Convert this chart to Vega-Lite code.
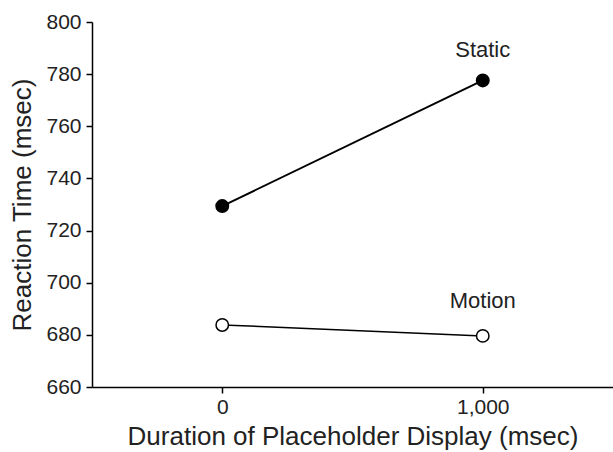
{
  "$schema": "https://vega.github.io/schema/vega-lite/v6.json",
  "autosize": {"type": "none"},
  "width": 521,
  "height": 365,
  "padding": {"left": 92, "top": 22, "right": 0, "bottom": 65},
  "background": "white",
  "config": {
    "view": {"stroke": null},
    "font": "Liberation Sans"
  },
  "data": {
    "values": [
      {"duration": 0, "rt": 729.4, "condition": "Static"},
      {"duration": 1000, "rt": 777.6, "condition": "Static"},
      {"duration": 0, "rt": 683.8, "condition": "Motion"},
      {"duration": 1000, "rt": 679.6, "condition": "Motion"}
    ]
  },
  "encoding": {
    "x": {"field": "duration", "type": "quantitative", "scale": {"domain": [-500, 1500], "nice": false},
      "axis": {"values": [0, 1000], "format": ",d", "title": "Duration of Placeholder Display (msec)", "grid": false,
        "domainColor": "black", "domainWidth": 1.5, "tickColor": "black", "tickWidth": 1.5, "tickSize": 6,
        "labelFont": "Liberation Sans", "labelFontSize": 21, "labelColor": "#222", "labelPadding": 3,
        "titleFont": "Liberation Sans", "titleFontSize": 26, "titleFontWeight": "normal", "titleColor": "#222", "titlePadding": 6}},
    "y": {"field": "rt", "type": "quantitative", "scale": {"domain": [660, 800], "nice": false, "zero": false},
      "axis": {"values": [660, 680, 700, 720, 740, 760, 780, 800], "title": "Reaction Time (msec)", "grid": false,
        "domainColor": "black", "domainWidth": 1.5, "tickColor": "black", "tickWidth": 1.5, "tickSize": 6,
        "labelFont": "Liberation Sans", "labelFontSize": 21, "labelColor": "#222", "labelPadding": 5,
        "titleFont": "Liberation Sans", "titleFontSize": 26, "titleFontWeight": "normal", "titleColor": "#222", "titlePadding": 10}}
  },
  "layer": [
    {
      "transform": [{"filter": "datum.condition == 'Static'"}],
      "mark": {"type": "line", "color": "black", "strokeWidth": 2}
    },
    {
      "transform": [{"filter": "datum.condition == 'Motion'"}],
      "mark": {"type": "line", "color": "black", "strokeWidth": 1.5}
    },
    {
      "mark": {"type": "point", "size": 155, "strokeWidth": 1.5, "stroke": "black", "opacity": 1},
      "encoding": {
        "fill": {"field": "condition", "type": "nominal", "scale": {"domain": ["Static", "Motion"], "range": ["black", "white"]}, "legend": null}
      }
    },
    {
      "transform": [{"filter": "datum.duration == 1000 && datum.condition == 'Static'"}],
      "mark": {"type": "text", "fontSize": 22, "color": "#222", "dy": -30, "font": "Liberation Sans"},
      "encoding": {"text": {"field": "condition"}}
    },
    {
      "transform": [{"filter": "datum.duration == 1000 && datum.condition == 'Motion'"}],
      "mark": {"type": "text", "fontSize": 22, "color": "#222", "dy": -35, "font": "Liberation Sans"},
      "encoding": {"text": {"field": "condition"}}
    }
  ]
}
